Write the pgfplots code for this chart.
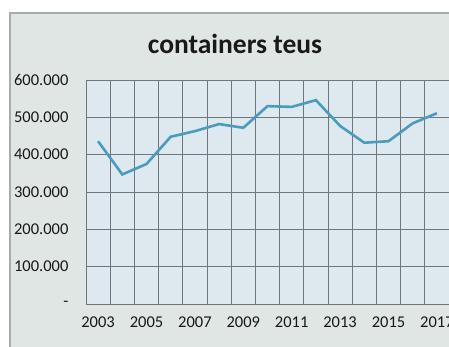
\documentclass[border=0pt]{standalone}
\usepackage{pgfplots}
\pgfplotsset{compat=1.18}
\usepackage{fontspec}
\setmainfont{Carlito}
\definecolor{panel}{HTML}{DFE6E3}
\definecolor{plotbg}{HTML}{DDE8EF}
\definecolor{gridc}{HTML}{70767A}
\definecolor{linec}{HTML}{4A9CBD}
\definecolor{edgec}{HTML}{A8ADAA}
\begin{document}
\begin{tikzpicture}[x=1pt,y=1pt]
\clip (0,0) rectangle (449,347);
\fill[white] (0,0) rectangle (449,347);
\filldraw[fill=panel,draw=edgec,line width=1.2pt] (10,-5) rectangle (470,334);
\node[font=\bfseries\fontsize{27.5}{30}\selectfont,text=black!90] at (235,303) {containers teus};
\begin{axis}[
  at={(86pt,43pt)}, anchor=south west,
  scale only axis, width=363pt, height=224pt,
  xmin=2002.5, xmax=2017.5, ymin=0, ymax=600000,
  scaled ticks=false,
  axis background/.style={fill=plotbg},
  axis line style={gridc, line width=0.8pt},
  xtick={2003,2005,...,2017},
  xticklabels={2003,2005,2007,2009,2011,2013,2015,2017},
  minor xtick={2003.5,2004.5,...,2016.5},
  xminorgrids=true,
  minor grid style={gridc, line width=0.7pt},
  ytick={0,100000,...,600000},
  yticklabels={-\hspace{9pt},100.000,200.000,300.000,400.000,500.000,600.000},
  ymajorgrids=true,
  major grid style={gridc, line width=0.7pt},
  major tick length=0pt, minor tick length=0pt,
  tick label style={font=\fontsize{16.5}{17}\selectfont, text=black!90},
  /pgf/number format/assume math mode=true,
  xticklabel style={yshift=-9pt},
  yticklabel style={xshift=-14pt},
  clip=false,
]
\addplot[linec, line width=2.6pt] coordinates {
(2003,436000) (2004,347000) (2005,375000) (2006,448000) (2007,463000)
(2008,482000) (2009,472000) (2010,530000) (2011,528000) (2012,546000)
(2013,477000) (2014,432000) (2015,436000) (2016,484000) (2017,511000)
};
\end{axis}
\end{tikzpicture}
\end{document}
